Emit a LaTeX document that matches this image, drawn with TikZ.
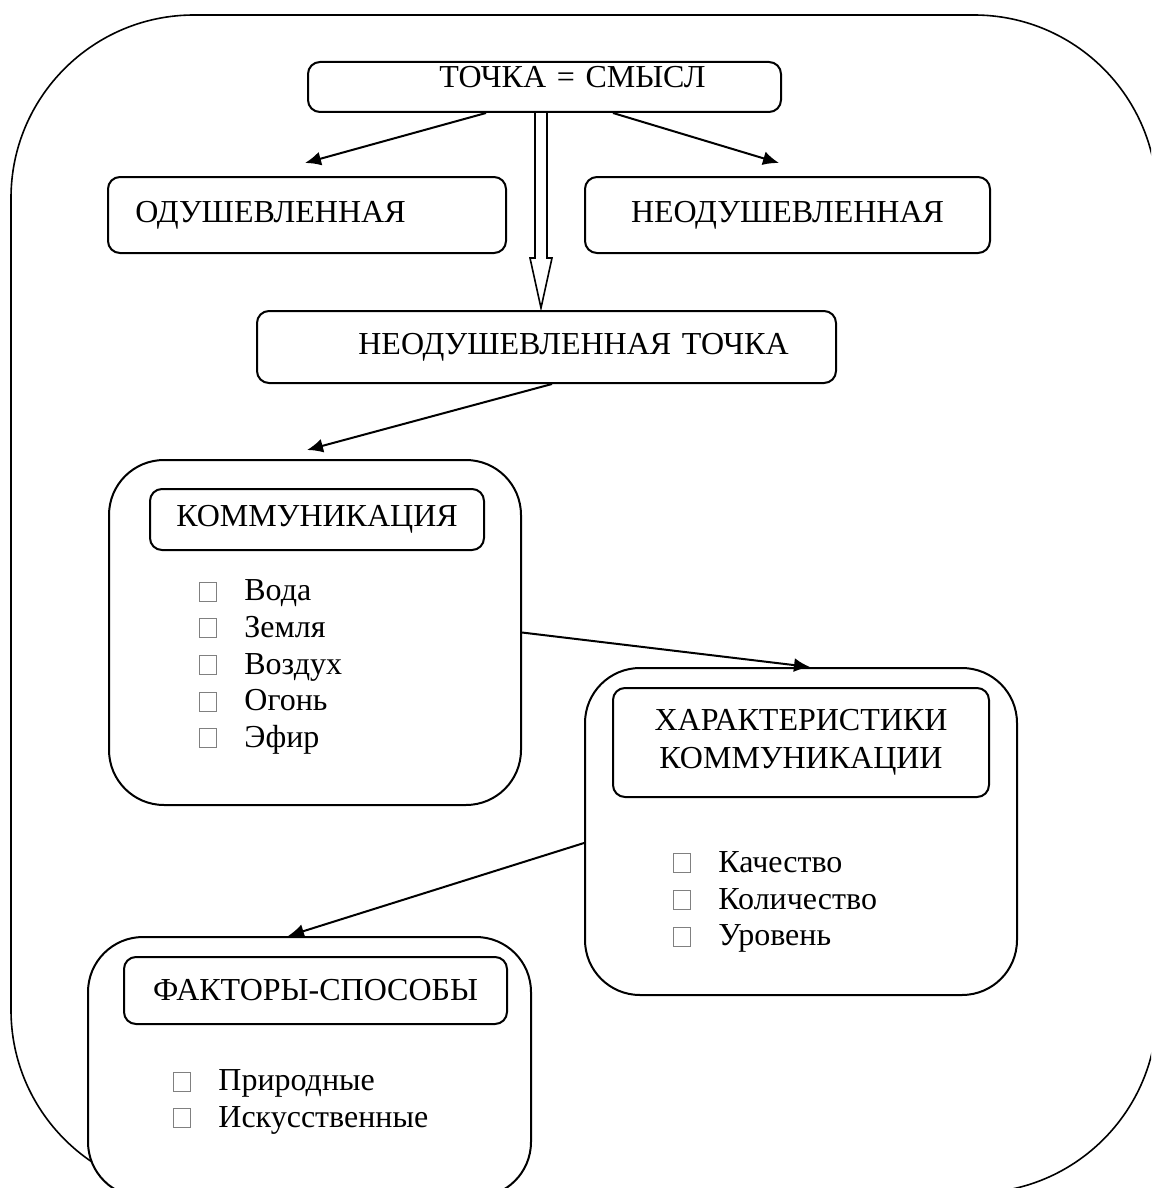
\documentclass[tikz,border=0pt]{standalone}
\usepackage{fontspec}
\setmainfont{Liberation Serif}
\usetikzlibrary{arrows.meta}

\newcommand{\chk}{{\color{gray}\setlength{\fboxsep}{0pt}\setlength{\fboxrule}{0.5pt}\fbox{\rule{0pt}{9pt}\hspace{8pt}}}}

\begin{document}
\begin{tikzpicture}[x=0.5pt, y=-0.5pt, >={Latex[length=8pt,width=7pt]},
every node/.style={font=\fontsize{16}{19}\selectfont},
box/.style={draw, line width=1pt, rounded corners=6pt, fill=white, inner sep=0pt, align=center},
bigbox/.style={box, rounded corners=27.5pt},
items/.style={inner sep=0pt, align=left, anchor=west, font=\fontsize{16}{18.35}\selectfont},
conn/.style={->, line width=1pt}]
\useasboundingbox (0,0) rectangle (1151,1188);
\clip (0,0) rectangle (1151,1188);
\draw[line width=0.8pt, rounded corners=91.5pt] (11,15) rectangle (1157,1193);

\node[box, minimum width=236.5pt, minimum height=25pt, text width=236.5pt, text depth=10pt] (top) at (544.5,87) {\hspace*{28pt}ТОЧКА = СМЫСЛ};
\node[box, minimum width=199pt, minimum height=38pt, text width=199pt] (odush) at (307,215) {ОДУШЕВЛЕННАЯ\hspace*{36.5pt}\mbox{}};
\node[box, minimum width=202.5pt, minimum height=38pt, text width=202.5pt] (neod) at (787.5,215) {НЕОДУШЕВЛЕННАЯ};
\node[box, minimum width=289.5pt, minimum height=36pt, text width=289.5pt] (neodt) at (546.5,347) {\hspace*{27pt}НЕОДУШЕВЛЕННАЯ ТОЧКА};

% blocks
\node[bigbox, minimum width=206pt, minimum height=172.5pt] (komm) at (315,632.5) {};
\node[box, minimum width=167pt, minimum height=30.5pt] (kommhead) at (317,519.5) {КОММУНИКАЦИЯ};
\node[items] (kommlist) at (199,667) {\chk\hspace{13.5pt}Вода\\ \chk\hspace{13.5pt}Земля\\ \chk\hspace{13.5pt}Воздух\\ \chk\hspace{13.5pt}Огонь\\ \chk\hspace{13.5pt}Эфир};

\node[bigbox, minimum width=216pt, minimum height=163.5pt] (char) at (801,831.5) {};
\node[box, minimum width=188pt, minimum height=54.5pt] (charhead) at (801,742.5) {ХАРАКТЕРИСТИКИ\\ КОММУНИКАЦИИ};
\node[items] (charlist) at (673,902) {\chk\hspace{13.5pt}Качество\\ \chk\hspace{13.5pt}Количество\\ \chk\hspace{13.5pt}Уровень};

\node[bigbox, minimum width=221.5pt, minimum height=130pt] (fact) at (309.5,1067) {};
\node[box, minimum width=191.5pt, minimum height=33.5pt] (facthead) at (315.5,990.5) {ФАКТОРЫ-СПОСОБЫ};
\node[items] (factlist) at (173,1102) {\chk\hspace{13.5pt}Природные\\ \chk\hspace{13.5pt}Искусственные};

% connectors
\coordinate (lt) at (305,163);
\coordinate (rt) at (779,163);
\coordinate (kt) at (307,450);
\draw[conn] ([xshift=-29.25pt]top.south) -- (lt);
\draw[conn] ([xshift=34.25pt]top.south) -- (rt);
\draw[line width=0.8pt] ([xshift=-4.75pt]top.south) -- ++(0,145) -- ++(-5,0) -- ++(11,50) -- ++(11,-50) -- ++(-5,0) -- ++(0,-145);
\draw[conn] ([xshift=2.75pt]neodt.south) -- (kt);
\draw[conn] (komm.east) -- ([xshift=4.5pt]char.north);
\draw[conn] ([yshift=-5.75pt]char.west) -- ([xshift=-10.75pt]fact.north);
\end{tikzpicture}
\end{document}
